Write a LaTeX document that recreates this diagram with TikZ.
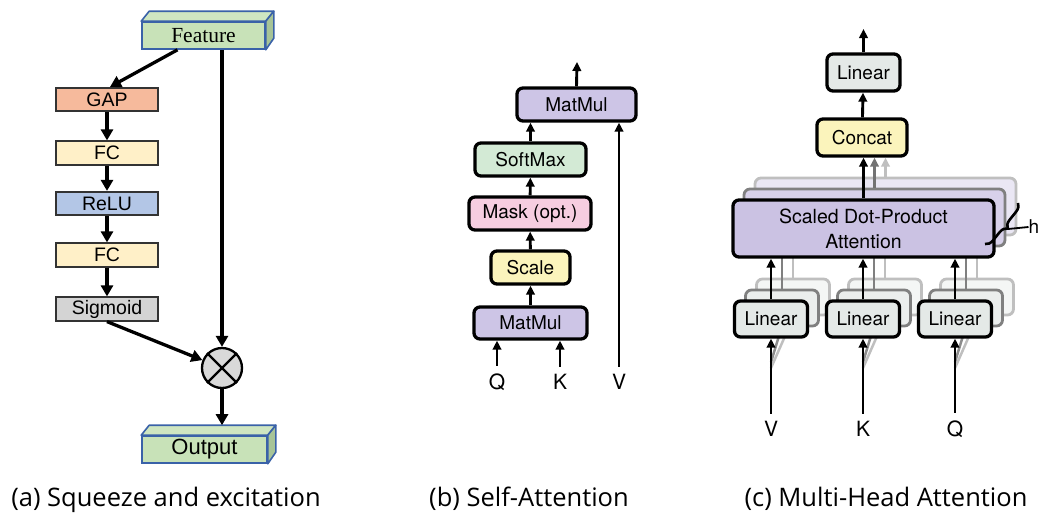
\documentclass[tikz,border=0pt]{standalone}
\usepackage{fontspec}
\setmainfont{Liberation Sans}
\newfontfamily\capfont{Open Sans}
\newfontfamily\serfont{Liberation Serif}
\newfontfamily\helv{TeX Gyre Heros}
\usetikzlibrary{arrows.meta,decorations.pathreplacing,calc}

\definecolor{gapc}{HTML}{F6BA9C}
\definecolor{fcc}{HTML}{FFF0C8}
\definecolor{reluc}{HTML}{B3C6E6}
\definecolor{sigc}{HTML}{D4D4D4}
\definecolor{cubegreen}{HTML}{C8E2B8}
\definecolor{cubetop}{HTML}{CFE6C1}
\definecolor{cubeside}{HTML}{A7C497}
\definecolor{cubeline}{HTML}{3A62A8}
\definecolor{multc}{HTML}{D9D9D9}
\definecolor{mmc}{HTML}{CDC5E6}
\definecolor{smc}{HTML}{D3EAD5}
\definecolor{maskc}{HTML}{F6CDE0}
\definecolor{scalec}{HTML}{FBF4BC}
\definecolor{linc}{HTML}{E4E9E7}
\definecolor{sdpac}{HTML}{CBC2E3}

\tikzset{
  sebox/.style={draw=black!80, line width=1.7pt, minimum width=102pt,
    minimum height=23.5pt, inner sep=0pt, font=\fontsize{19.5}{19.5}\selectfont},
  cubefront/.style={draw=cubeline, line width=1.6pt, fill=cubegreen,
    minimum width=123pt, minimum height=27pt, inner sep=0pt},
  cubeface/.style={draw=cubeline, line width=1.6pt, line join=round},
  arrA/.style={line width=3.3pt, -{Triangle[length=11pt,width=12pt]}},
  arrB/.style={line width=2.9pt, -{Triangle[length=9pt,width=8.5pt]}},
  tbox/.style={draw=black, line width=3.3pt, rounded corners=6pt,
    inner sep=0pt, font=\helv\fontsize{19}{25}\selectfont},
  ghosttwo/.style={draw=black!50, line width=2.8pt, rounded corners=6pt, inner sep=0pt},
  ghostthree/.style={draw=black!25, line width=2.8pt, rounded corners=6pt, inner sep=0pt},
  gline/.style={line width=2.5pt},
  qkv/.style={font=\helv\fontsize{21}{21}\selectfont, inner xsep=0pt, inner ysep=7.5pt},
  caption/.style={font=\capfont\fontsize{25.5}{25.5}\selectfont, anchor=base, inner sep=0pt}
}

\begin{document}
\begin{tikzpicture}[x=1pt,y=-1pt]
\useasboundingbox (0,0) rectangle (1041,525);

% ---------------- (a) squeeze and excitation ----------------
\node[cubefront, font=\serfont\fontsize{21.5}{21.5}\selectfont] (feat) at (203.5,35.5) {Feature};
\draw[cubeface, fill=cubetop] (feat.north west) -- ++(8,-10) -- ([shift={(8,-10)}]feat.north east) -- (feat.north east) -- cycle;
\draw[cubeface, fill=cubeside] (feat.north east) -- ++(8,-10) -- ++(0,27) -- (feat.south east) -- cycle;

\node[sebox, fill=gapc]  (gap)  at (107,99.5)  {GAP};
\node[sebox, fill=fcc]   (fca)  at (107,153)   {FC};
\node[sebox, fill=reluc] (relu) at (107,203.5) {ReLU};
\node[sebox, fill=fcc]   (fcb)  at (107,255)   {FC};
\node[sebox, fill=sigc]  (sig)  at (107,309)   {Sigmoid};

\node[circle, draw=black, line width=2.3pt, fill=multc, minimum size=40pt, inner sep=0pt] (mult) at (222,368) {};
\draw[line width=2.3pt] (mult.north west) -- (mult.south east) (mult.north east) -- (mult.south west);

\node[cubefront, minimum width=125pt, font=\fontsize{22}{22}\selectfont] (outp) at (204.5,449.5) {Output};
\draw[cubeface, fill=cubetop] (outp.north west) -- ++(8,-10) -- ([shift={(8,-10)}]outp.north east) -- (outp.north east) -- cycle;
\draw[cubeface, fill=cubeside] (outp.north east) -- ++(8,-10) -- ++(0,27) -- (outp.south east) -- cycle;

\draw[arrA] ([xshift=-26pt]feat.south) -- ([xshift=3pt]gap.north);
\draw[arrA] (gap) -- (fca);
\draw[arrA] (fca) -- (relu);
\draw[arrA] (relu) -- (fcb);
\draw[arrA] (fcb) -- (sig);
\draw[arrA] (sig.south) -- (mult);
\draw[arrA] ([xshift=18.5pt]feat.south) -- (mult.north);
\draw[arrA] (mult.south) -- ([yshift=10pt]outp.north -| mult.south);

% ---------------- (b) self-attention ----------------
\node[tbox, fill=mmc,    minimum width=119pt, minimum height=33pt] (mmtop) at (576.5,104.5) {MatMul};
\node[tbox, fill=smc,    minimum width=111pt, minimum height=33pt] (soft)  at (530.5,159.5) {SoftMax};
\node[tbox, fill=maskc,  minimum width=122pt, minimum height=33pt] (mask)  at (530,213.5)   {Mask (opt.)};
\node[tbox, fill=scalec, minimum width=79pt,  minimum height=33pt] (scale) at (530.5,267.5) {Scale};
\node[tbox, fill=mmc,    minimum width=113pt, minimum height=32pt] (mmbot) at (530.5,323)   {MatMul};

\node[qkv] (qb) at (497,382) {Q};
\node[qkv] (kb) at (560,382) {K};
\node[qkv] (vb) at (619,382) {V};
\coordinate (outb) at (577,62);

\draw[arrB] (qb.north) -- (qb.north |- mmbot.south);
\draw[arrB] (kb.north) -- (kb.north |- mmbot.south);
\draw[arrB] (vb.north) -- (vb.north |- mmtop.south);
\draw[arrB] (mmbot) -- (scale);
\draw[arrB] (scale) -- (mask);
\draw[arrB] (mask) -- (soft);
\draw[arrB] (soft.north) -- (soft.north |- mmtop.south);
\draw[arrB] (mmtop.north) -- (outb);

% ---------------- (c) multi-head attention ----------------
% third (rearmost) copy of the heads
\node[ghostthree, fill=sdpac!40, minimum width=261pt, minimum height=57pt] (sdpaC) at (885.5,206.5) {};
\foreach \n/\x in {1/771,2/863,3/955}{
  \draw[gline, black!25] (\x+22,337) -- (\x+22,250);
  \draw[gline, black!25] (\x,368) -- (\x+22,318);
  \node[ghostthree, fill=linc!40, minimum width=73pt, minimum height=36pt] (linC\n) at (\x+22,297) {};
}
% second copy of the heads
\node[ghosttwo, fill=sdpac!75, minimum width=261pt, minimum height=57pt] (sdpaB) at (874.5,217.5) {};
\foreach \n/\x in {1/771,2/863,3/955}{
  \draw[gline, black!50] (\x+11,337) -- (\x+11,250);
  \draw[gline, black!45] (\x,362) -- (\x+11,326);
  \node[ghosttwo, fill=linc!75, minimum width=73pt, minimum height=36pt] (linB\n) at (\x+11,308) {};
}
% front copy
\node[tbox, fill=sdpac, minimum width=261pt, minimum height=57pt, align=center,
  font=\helv\fontsize{19.5}{25}\selectfont] (sdpa) at (863.5,228.5) {Scaled Dot-Product\\Attention};
\node[tbox, fill=linc, minimum width=73pt, minimum height=36pt] (linv) at (771,319) {Linear};
\node[tbox, fill=linc, minimum width=73pt, minimum height=36pt] (link) at (863,319) {Linear};
\node[tbox, fill=linc, minimum width=73pt, minimum height=36pt] (linq) at (955,319) {Linear};

\node[tbox, fill=scalec, minimum width=90pt, minimum height=37pt] (concat) at (862,137.5) {Concat};
\node[tbox, fill=linc, minimum width=73pt, minimum height=37pt] (linout) at (863.5,72.5) {Linear};
\coordinate (outc) at (863.5,29);

\node[qkv] (vc) at (771,429) {V};
\node[qkv] (kc) at (863,429) {K};
\node[qkv] (qc) at (955,429) {Q};

\draw[arrB] (vc.north) -- (linv.south);
\draw[arrB] (kc.north) -- (link.south);
\draw[arrB] (qc.north) -- (linq.south);
\draw[arrB] (linv.north) -- (linv.north |- sdpa.south);
\draw[arrB] (link.north) -- (link.north |- sdpa.south);
\draw[arrB] (linq.north) -- (linq.north |- sdpa.south);
\draw[arrB, black!25] (sdpaC.north) -- (sdpaC.north |- concat.south);
\draw[arrB, black!55] (sdpaB.north) -- (sdpaB.north |- concat.south);
\draw[arrB] (sdpa.north) -- (sdpa.north |- concat.south);
\draw[arrB] (concat) -- (linout);
\draw[arrB] (linout.north) -- (outc);

% brace marking the h parallel heads
\coordinate (brtop) at (1018,203);
\coordinate (brbot) at (985,244);
\coordinate (brtip) at (1008,229);
\draw[line width=2.6pt, decorate, decoration={brace, amplitude=8pt}] (brtop) -- (brbot);
\node[font=\helv\fontsize{19}{19}\selectfont, anchor=west, inner sep=0pt] (hlab) at (1028.5,227) {h};
\draw[line width=1.8pt] (brtip) -- (hlab.west);

% ---------------- captions ----------------
\node[caption] (capa) at (166,506) {(a) Squeeze and excitation};
\node[caption] (capb) at (529,506) {(b) Self-Attention};
\node[caption] (capc) at (886,506) {(c) Multi-Head Attention};
\end{tikzpicture}
\end{document}
